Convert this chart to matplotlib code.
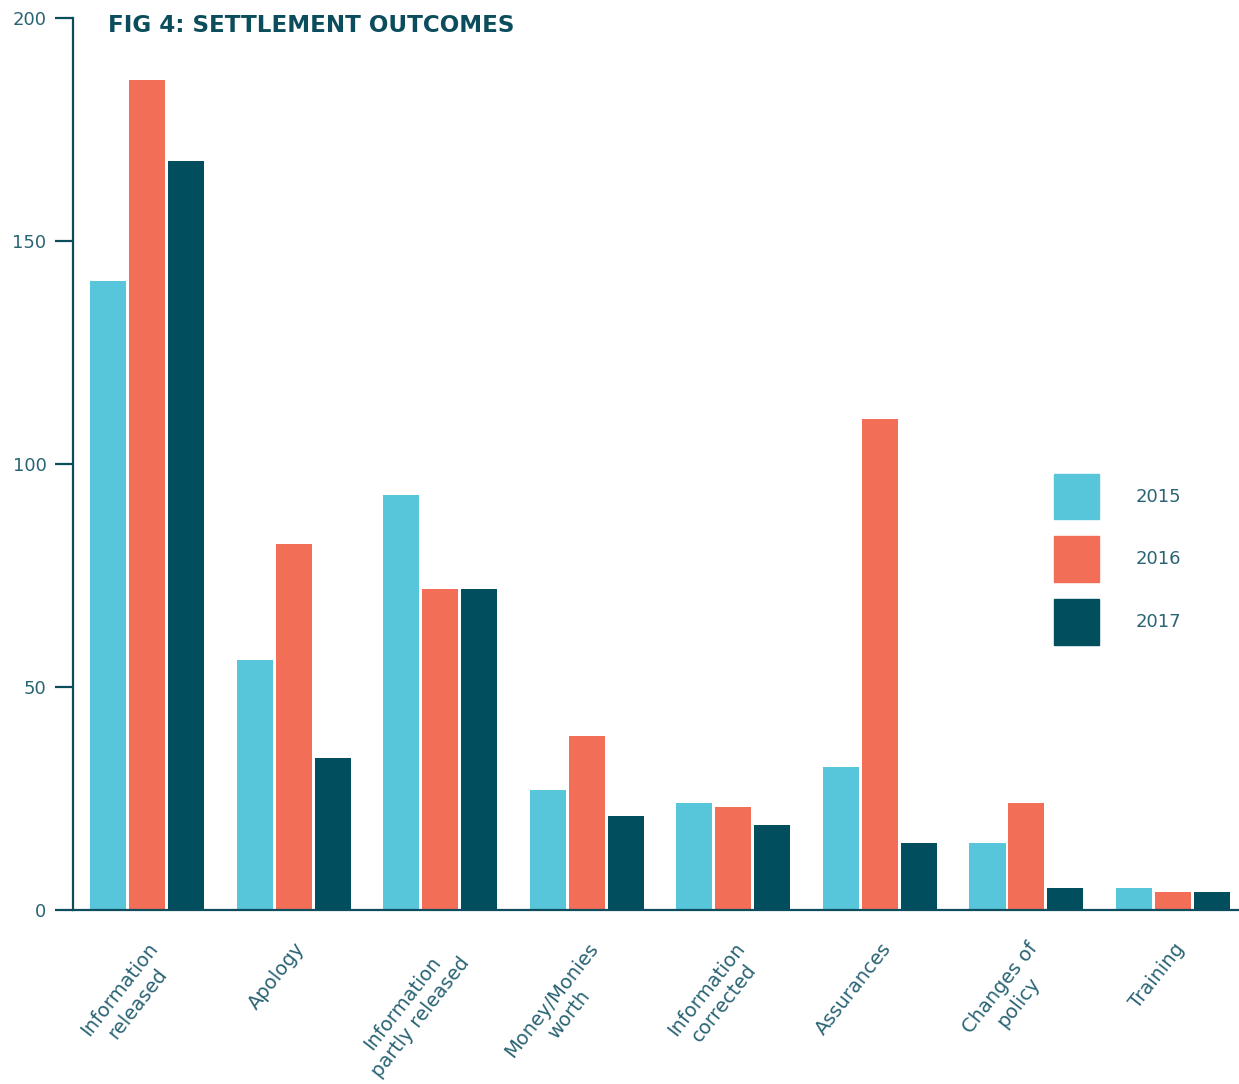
import matplotlib
matplotlib.use('Agg')
import numpy as np
import matplotlib.pyplot as plt
from matplotlib.patches import Patch

categories = ['Information\nreleased', 'Apology', 'Information\npartly released',
              'Money/Monies\nworth', 'Information\ncorrected', 'Assurances',
              'Changes of\npolicy', 'Training']
years = ['2015', '2016', '2017']
v2015 = [141, 56, 93, 27, 24, 32, 15, 5]
v2016 = [186, 82, 72, 39, 23, 110, 24, 4]
v2017 = [168, 34, 72, 21, 19, 15, 5, 4]
colors = ['#58c6da', '#f26e57', '#014e5e']
teal = '#0b4d5c'
label_col = '#2a6474'

plt.rcParams['font.family'] = ['DejaVu Sans']

fig = plt.figure(figsize=(12.39, 10.84), dpi=100)
ax = fig.add_axes([73 / 1239, 1 - 910 / 1084, 1 - 73 / 1239, (910 - 18) / 1084])

x = np.arange(len(categories))
w = 0.246
step = 0.266
for i, vals in enumerate([v2015, v2016, v2017]):
    ax.bar(x + (i - 1) * step, vals, w, color=colors[i], zorder=2)

ax.set_xlim(-0.505, 7.45)
ax.set_ylim(0, 200)
ax.set_yticks([0, 50, 100, 150, 200])
ax.tick_params(axis='y', length=13, width=1.6, color=teal, pad=6,
               labelsize=13, labelcolor=label_col)
ax.set_xticks(x)
ax.set_xticklabels(categories, rotation=52, ha='right', va='top',
                   rotation_mode='anchor', multialignment='center',
                   linespacing=1.25)
ax.tick_params(axis='x', length=0, pad=21, labelsize=14, labelcolor=label_col)

for s in ['top', 'right']:
    ax.spines[s].set_visible(False)
for s in ['left', 'bottom']:
    ax.spines[s].set_color(teal)
    ax.spines[s].set_linewidth(1.6)
    ax.spines[s].set_zorder(3)

handles = [Patch(color=c) for c in colors]
ax.legend(handles, years, loc='upper left', bbox_to_anchor=(0.841, 0.489),
          frameon=False, fontsize=13, handlelength=2.54, handleheight=3.5,
          handletextpad=2.0, labelspacing=0.95, borderpad=0, borderaxespad=0,
          labelcolor=label_col)

fig.text(108 / 1239, 1 - 25 / 1084, 'FIG 4: SETTLEMENT OUTCOMES', fontsize=16.6,
         fontweight='bold', color=teal, va='center', ha='left')

fig.savefig('out.png', dpi=100)
